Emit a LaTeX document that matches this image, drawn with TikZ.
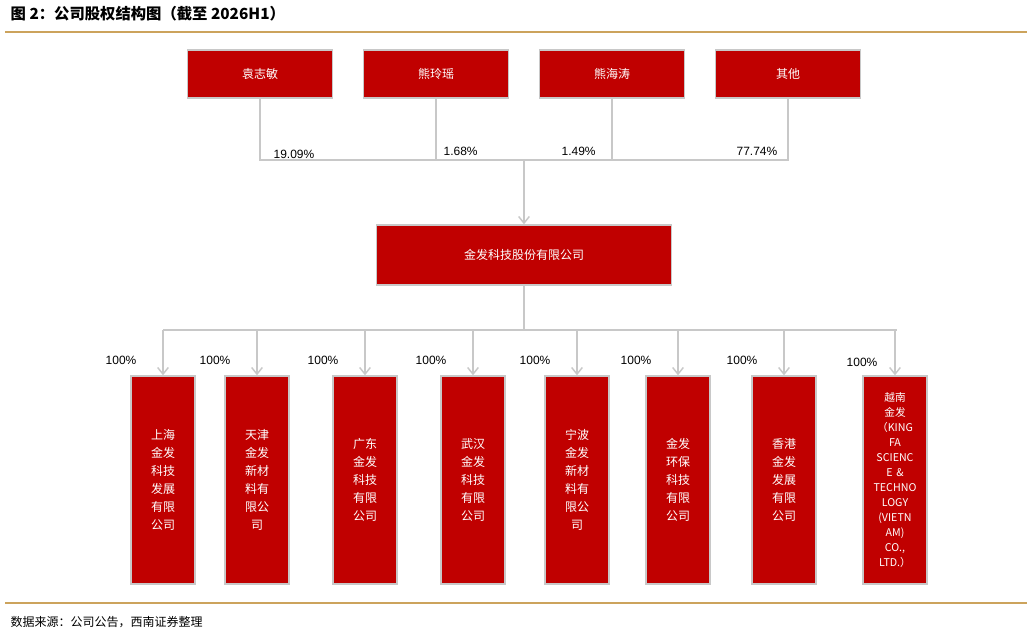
\documentclass[tikz,border=0pt]{standalone}
\usepackage{fontspec}
\setmainfont{Liberation Sans}
\newfontfamily\cjk{Noto Sans CJK SC}
\usetikzlibrary{positioning,arrows.meta}
\definecolor{boxred}{RGB}{192,0,0}
\definecolor{rulegold}{RGB}{204,163,92}
\definecolor{linegray}{RGB}{200,200,200}
\begin{document}
\begin{tikzpicture}[x=0.75pt,y=-0.75pt]
    \tikzset{holder/.style={draw=linegray,line width=1pt,fill=boxred,text=white,font=\cjk\fontsize{9}{11}\selectfont,minimum width=109pt,minimum height=36pt,inner sep=0pt}}
    \tikzset{sub/.style={draw=linegray,line width=1pt,fill=boxred,text=white,font=\cjk\fontsize{9}{13.5}\selectfont,minimum width=48pt,minimum height=156pt,inner sep=0pt,align=center,text width=46pt}}
    \tikzset{link/.style={linegray,line width=1.1pt}}
    \tikzset{arr/.style={link,-{Straight Barb[length=5pt,width=8pt]}}}
    \tikzset{pct/.style={font=\fontsize{9}{11}\selectfont,inner sep=1pt}}
    \useasboundingbox (0,0) rectangle (1032,636);
    \node[anchor=west,font=\cjk\bfseries\fontsize{11.5}{13}\selectfont] (title) at (6,14) {图 2：公司股权结构图（截至 2026H1）};
    \draw[rulegold,line width=0.8pt] (5,32) -- (1027,32);
    \draw[rulegold,line width=0.8pt] (5,603) -- (1027,603);
    \node[anchor=west,font=\cjk\itshape\fontsize{9}{11}\selectfont] (src) at (6,622) {数据来源：公司公告，西南证券整理};
    % holders
    \node[holder] (yuan) at (260,74) {袁志敏};
    \node[holder] (xlr) at (436,74) {熊玲瑶};
    \node[holder] (xht) at (612,74) {熊海涛};
    \node[holder] (other) at (788,74) {其他};
    \node[holder,minimum width=221pt,minimum height=45pt] (kf) at (524,255) {金发科技股份有限公司};
    \coordinate (j1) at (260,160);
    \coordinate (j2) at (436,160);
    \coordinate (j3) at (612,160);
    \coordinate (j4) at (788,160);
    \coordinate (jm) at (524,160);
    \draw[link] (yuan) -- (j1) -- (j4) -- (other);
    \draw[link] (xlr) -- (j2);
    \draw[link] (xht) -- (j3);
    \draw[arr] (jm) -- (kf);
    \node[pct,anchor=south west] at (272,160) {19.09\%};
    \node[pct,anchor=south west] at (442,157) {1.68\%};
    \node[pct,anchor=south west] at (560,157) {1.49\%};
    \node[pct,anchor=south west] at (735,157) {77.74\%};
    % subsidiaries
    \coordinate (jk) at (524,330);
    \draw[link] (kf) -- (jk);
    \draw[link] (163,330) coordinate (jl) -- (897,330) coordinate (jr);
    \foreach \n/\x/\t [count=\i] in {
        sh/163/{上海\\金发\\科技\\发展\\有限\\公司},
        tj/257/{天津\\金发\\新材\\料有\\限公\\司},
        gd/365/{广东\\金发\\科技\\有限\\公司},
        wh/473/{武汉\\金发\\科技\\有限\\公司},
        nb/577/{宁波\\金发\\新材\\料有\\限公\\司},
        hb/678/{金发\\环保\\科技\\有限\\公司},
        hk/784/{香港\\金发\\发展\\有限\\公司}}{
        \node[sub] (\n) at (\x,480) {\t};
        \coordinate (t\n) at (\x,330);
        \draw[arr] (t\n) -- (\n);
        \node[pct,anchor=south east] at (\x-25,366) {100\%};
    }
    \node[sub,font=\cjk\fontsize{8}{11.2}\selectfont] (vn) at (895,480) {越南\\金发\\（KING\\FA\\SCIENC\\E \&\\TECHNO\\LOGY\\(VIETN\\AM)\\CO.,\\LTD.）};
    \coordinate (tvn) at (895,330);
    \draw[arr] (tvn) -- (vn);
    \node[pct,anchor=south east] at (879,368) {100\%};
\end{tikzpicture}
\end{document}
